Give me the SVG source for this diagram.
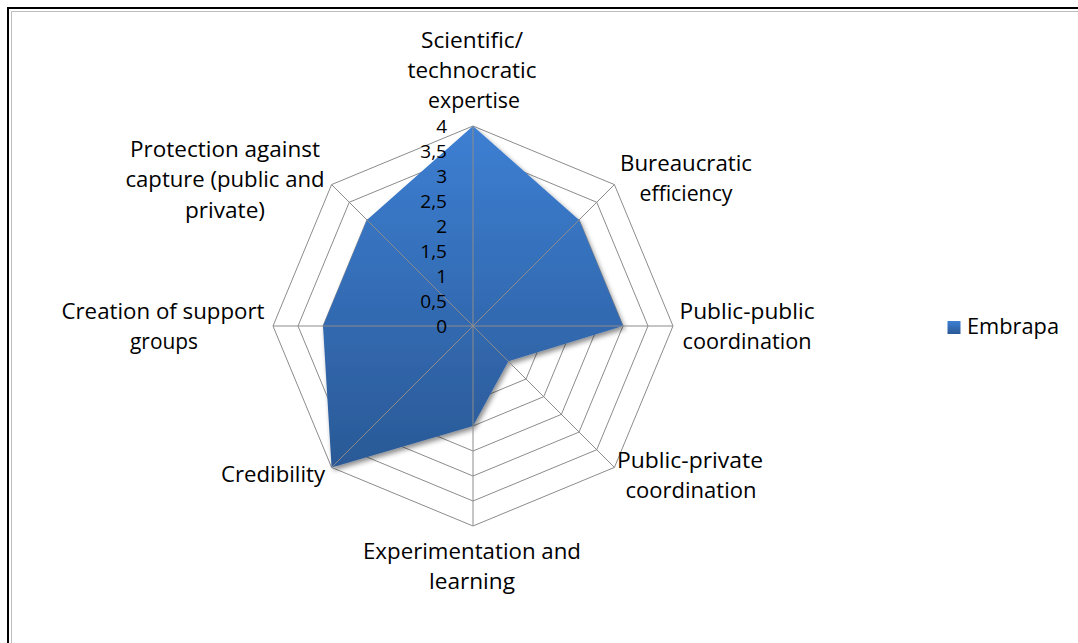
<svg xmlns="http://www.w3.org/2000/svg" width="1078" height="643" viewBox="0 0 1078 643">
  <defs>
    <linearGradient id="blueFill" x1="0" y1="0" x2="0" y2="1">
      <stop offset="0" stop-color="#3d7fd3"/>
      <stop offset="1" stop-color="#2a5996"/>
    </linearGradient>
    <filter id="shadow" x="-20%" y="-20%" width="140%" height="140%">
      <feDropShadow dx="2" dy="3" stdDeviation="2.5" flood-color="#000" flood-opacity="0.45"/>
    </filter>
  </defs>
  <style>
    .ring { fill: none; stroke: #8c8c8c; stroke-width: 1; }
    .spoke { stroke: #8c8c8c; stroke-width: 1; }
    .lbl { font-family: "Open Sans", "Liberation Sans", sans-serif; font-size: 22px; fill: #000; text-anchor: middle; }
    .num { font-family: "Open Sans", "Liberation Sans", sans-serif; font-size: 19px; fill: #000; text-anchor: end; }
    .frame-dark { stroke: #000; stroke-width: 2; fill: none; }
    .frame-light { stroke: #bdbdbd; stroke-width: 1; fill: none; }
  </style>
  <rect width="1078" height="643" fill="#fff"/>
  <!-- frame -->
  <g id="frame">
    <polyline class="frame-dark" points="8,643 8,8 1078,8"/>
    <polyline class="frame-light" points="11.5,643 11.5,11.5 1078,11.5"/>
  </g>
  <!-- grid rings -->
  <g id="grid">
    <polygon class="ring" points="473,301 490.68,308.32 498,326 490.68,343.68 473,351 455.32,343.68 448,326 455.32,308.32"/>
    <polygon class="ring" points="473,276 508.36,290.64 523,326 508.36,361.36 473,376 437.64,361.36 423,326 437.64,290.64"/>
    <polygon class="ring" points="473,251 526.03,272.97 548,326 526.03,379.03 473,401 419.97,379.03 398,326 419.97,272.97"/>
    <polygon class="ring" points="473,226 543.71,255.29 573,326 543.71,396.71 473,426 402.29,396.71 373,326 402.29,255.29"/>
    <polygon class="ring" points="473,201 561.39,237.61 598,326 561.39,414.39 473,451 384.61,414.39 348,326 384.61,237.61"/>
    <polygon class="ring" points="473,176 579.07,219.93 623,326 579.07,432.07 473,476 366.93,432.07 323,326 366.93,219.93"/>
    <polygon class="ring" points="473,151 596.74,202.26 648,326 596.74,449.74 473,501 349.26,449.74 298,326 349.26,202.26"/>
    <polygon class="ring" points="473,126 614.42,184.58 673,326 614.42,467.42 473,526 331.58,467.42 273,326 331.58,184.58"/>
  </g>
  <!-- data series -->
  <g id="series-embrapa">
    <polygon points="473,126 579.07,219.93 623,326 508.36,361.36 473,426 331.58,467.42 323,326 366.93,219.93" fill="url(#blueFill)" filter="url(#shadow)"/>
  </g>
  <!-- spokes -->
  <g id="connectors">
    <line class="spoke" x1="473" y1="326" x2="473" y2="126"/>
    <line class="spoke" x1="473" y1="326" x2="614.42" y2="184.58"/>
    <line class="spoke" x1="473" y1="326" x2="673" y2="326"/>
    <line class="spoke" x1="473" y1="326" x2="614.42" y2="467.42"/>
    <line class="spoke" x1="473" y1="326" x2="473" y2="526"/>
    <line class="spoke" x1="473" y1="326" x2="331.58" y2="467.42"/>
    <line class="spoke" x1="473" y1="326" x2="273" y2="326"/>
    <line class="spoke" x1="473" y1="326" x2="331.58" y2="184.58"/>
  </g>
  <!-- value axis labels -->
  <g id="value-axis">
    <text class="num" x="447" y="133">4</text>
    <text class="num" x="447" y="158">3,5</text>
    <text class="num" x="447" y="183">3</text>
    <text class="num" x="447" y="208">2,5</text>
    <text class="num" x="447" y="233">2</text>
    <text class="num" x="447" y="258">1,5</text>
    <text class="num" x="447" y="283">1</text>
    <text class="num" x="447" y="308">0,5</text>
    <text class="num" x="447" y="333">0</text>
  </g>
  <!-- category labels -->
  <g id="cat-scientific">
    <text class="lbl" x="472" y="48" textLength="102" lengthAdjust="spacingAndGlyphs">Scientific/</text>
    <text class="lbl" x="472" y="78" textLength="129" lengthAdjust="spacingAndGlyphs">technocratic</text>
    <text class="lbl" x="474" y="108" textLength="92" lengthAdjust="spacingAndGlyphs">expertise</text>
  </g>
  <g id="cat-bureaucratic">
    <text class="lbl" x="686" y="171" textLength="132" lengthAdjust="spacingAndGlyphs">Bureaucratic</text>
    <text class="lbl" x="686" y="201" textLength="93" lengthAdjust="spacingAndGlyphs">efficiency</text>
  </g>
  <g id="cat-public-public">
    <text class="lbl" x="747" y="319" textLength="135" lengthAdjust="spacingAndGlyphs">Public-public</text>
    <text class="lbl" x="747" y="349" textLength="129" lengthAdjust="spacingAndGlyphs">coordination</text>
  </g>
  <g id="cat-public-private">
    <text class="lbl" x="690" y="468" textLength="146" lengthAdjust="spacingAndGlyphs">Public-private</text>
    <text class="lbl" x="691" y="498" textLength="131" lengthAdjust="spacingAndGlyphs">coordination</text>
  </g>
  <g id="cat-experimentation">
    <text class="lbl" x="472" y="559" textLength="218" lengthAdjust="spacingAndGlyphs">Experimentation and</text>
    <text class="lbl" x="472" y="589" textLength="86" lengthAdjust="spacingAndGlyphs">learning</text>
  </g>
  <g id="cat-credibility">
    <text class="lbl" x="273" y="482" textLength="104" lengthAdjust="spacingAndGlyphs">Credibility</text>
  </g>
  <g id="cat-creation">
    <text class="lbl" x="163" y="319" textLength="203" lengthAdjust="spacingAndGlyphs">Creation of support</text>
    <text class="lbl" x="164" y="349" textLength="68" lengthAdjust="spacingAndGlyphs">groups</text>
  </g>
  <g id="cat-protection">
    <text class="lbl" x="225" y="157" textLength="190" lengthAdjust="spacingAndGlyphs">Protection against</text>
    <text class="lbl" x="225" y="187" textLength="199" lengthAdjust="spacingAndGlyphs">capture (public and</text>
    <text class="lbl" x="225" y="218" textLength="80" lengthAdjust="spacingAndGlyphs">private)</text>
  </g>
  <!-- legend -->
  <g id="legend">
    <rect x="947.5" y="321" width="13" height="13" fill="url(#blueFill)"/>
    <text class="lbl" x="967" y="334" textLength="92" lengthAdjust="spacingAndGlyphs" style="text-anchor:start">Embrapa</text>
  </g>
</svg>
